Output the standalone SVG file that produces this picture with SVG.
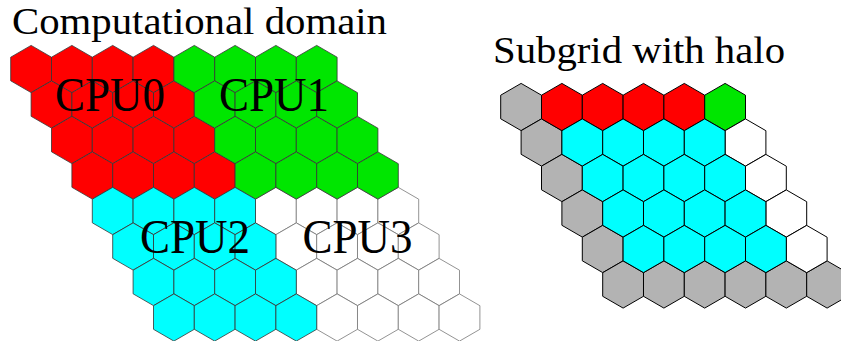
<svg xmlns="http://www.w3.org/2000/svg" xmlns:xlink="http://www.w3.org/1999/xlink" width="841" height="341" viewBox="0 0 841 341">
  <style>
    .lbl { font-family: "Liberation Serif", "DejaVu Serif", serif; fill: #000; }
    .title { font-size: 38px; }
    .cpu { font-size: 48px; }
    .dom use { stroke: #333; stroke-width: 0.8; }
    .dom .free use { stroke: #777; }
    .sub use { stroke: #000; stroke-width: 1; }
    .red use { fill: #ff0000; }
    .green use { fill: #00e600; }
    .cyan use { fill: #00ffff; }
    .white use { fill: #ffffff; }
    .gray use { fill: #b3b3b3; }
  </style>
  <defs>
    <!-- pointy-top hexagon cell centred on the origin -->
    <path id="h" d="M0,-23.6 L20.4,-11.8 L20.4,11.8 L0,23.6 L-20.4,11.8 L-20.4,-11.8 Z"/>
  </defs>

  <text class="lbl title" x="12" y="33.5" textLength="375" lengthAdjust="spacingAndGlyphs">Computational domain</text>
  <text class="lbl title" x="493" y="63.3" textLength="292" lengthAdjust="spacingAndGlyphs">Subgrid with halo</text>

  <!-- full domain: 8 x 8 rhombus of cells split over four ranks -->
  <g id="domain" class="dom">
    <g id="cpu3" class="white free">
      <use href="#h" x="275.9" y="211"/><use href="#h" x="316.7" y="211"/><use href="#h" x="357.5" y="211"/><use href="#h" x="398.3" y="211"/>
      <use href="#h" x="296.3" y="246.5"/><use href="#h" x="337.1" y="246.5"/><use href="#h" x="377.9" y="246.5"/><use href="#h" x="418.7" y="246.5"/>
      <use href="#h" x="316.7" y="282"/><use href="#h" x="357.5" y="282"/><use href="#h" x="398.3" y="282"/><use href="#h" x="439.1" y="282"/>
      <use href="#h" x="337.1" y="317.5"/><use href="#h" x="377.9" y="317.5"/><use href="#h" x="418.7" y="317.5"/><use href="#h" x="459.5" y="317.5"/>
    </g>
    <g id="cpu0" class="red">
      <use href="#h" x="31.1" y="69"/><use href="#h" x="71.9" y="69"/><use href="#h" x="112.7" y="69"/><use href="#h" x="153.5" y="69"/>
      <use href="#h" x="51.5" y="104.5"/><use href="#h" x="92.3" y="104.5"/><use href="#h" x="133.1" y="104.5"/><use href="#h" x="173.9" y="104.5"/>
      <use href="#h" x="71.9" y="140"/><use href="#h" x="112.7" y="140"/><use href="#h" x="153.5" y="140"/><use href="#h" x="194.3" y="140"/>
      <use href="#h" x="92.3" y="175.5"/><use href="#h" x="133.1" y="175.5"/><use href="#h" x="173.9" y="175.5"/><use href="#h" x="214.7" y="175.5"/>
    </g>
    <g id="cpu1" class="green">
      <use href="#h" x="194.3" y="69"/><use href="#h" x="235.1" y="69"/><use href="#h" x="275.9" y="69"/><use href="#h" x="316.7" y="69"/>
      <use href="#h" x="214.7" y="104.5"/><use href="#h" x="255.5" y="104.5"/><use href="#h" x="296.3" y="104.5"/><use href="#h" x="337.1" y="104.5"/>
      <use href="#h" x="235.1" y="140"/><use href="#h" x="275.9" y="140"/><use href="#h" x="316.7" y="140"/><use href="#h" x="357.5" y="140"/>
      <use href="#h" x="255.5" y="175.5"/><use href="#h" x="296.3" y="175.5"/><use href="#h" x="337.1" y="175.5"/><use href="#h" x="377.9" y="175.5"/>
    </g>
    <g id="cpu2" class="cyan">
      <use href="#h" x="112.7" y="211"/><use href="#h" x="153.5" y="211"/><use href="#h" x="194.3" y="211"/><use href="#h" x="235.1" y="211"/>
      <use href="#h" x="133.1" y="246.5"/><use href="#h" x="173.9" y="246.5"/><use href="#h" x="214.7" y="246.5"/><use href="#h" x="255.5" y="246.5"/>
      <use href="#h" x="153.5" y="282"/><use href="#h" x="194.3" y="282"/><use href="#h" x="235.1" y="282"/><use href="#h" x="275.9" y="282"/>
      <use href="#h" x="173.9" y="317.5"/><use href="#h" x="214.7" y="317.5"/><use href="#h" x="255.5" y="317.5"/><use href="#h" x="296.3" y="317.5"/>
    </g>
  </g>

  <g id="rank-labels">
    <text class="lbl cpu" x="55" y="110.7" textLength="110" lengthAdjust="spacingAndGlyphs">CPU0</text>
    <text class="lbl cpu" x="219" y="110.7" textLength="110" lengthAdjust="spacingAndGlyphs">CPU1</text>
    <text class="lbl cpu" x="140" y="252.7" textLength="110" lengthAdjust="spacingAndGlyphs">CPU2</text>
    <text class="lbl cpu" x="302.5" y="252.7" textLength="110" lengthAdjust="spacingAndGlyphs">CPU3</text>
  </g>

  <!-- one rank's 4 x 4 block surrounded by a one-cell halo -->
  <g id="subgrid" class="sub">
    <g id="halo-ghost" class="gray">
      <use href="#h" x="521.1" y="107"/><use href="#h" x="541.5" y="142.5"/><use href="#h" x="561.9" y="178"/><use href="#h" x="582.3" y="213.5"/><use href="#h" x="602.7" y="249"/>
      <use href="#h" x="623.1" y="284.5"/><use href="#h" x="663.9" y="284.5"/><use href="#h" x="704.7" y="284.5"/><use href="#h" x="745.5" y="284.5"/><use href="#h" x="786.3" y="284.5"/><use href="#h" x="827.1" y="284.5"/>
    </g>
    <g id="halo-cpu0" class="red">
      <use href="#h" x="561.9" y="107"/><use href="#h" x="602.7" y="107"/><use href="#h" x="643.5" y="107"/><use href="#h" x="684.3" y="107"/>
    </g>
    <g id="halo-cpu1" class="green">
      <use href="#h" x="725.1" y="107"/>
    </g>
    <g id="halo-cpu3" class="white">
      <use href="#h" x="745.5" y="142.5"/><use href="#h" x="765.9" y="178"/><use href="#h" x="786.3" y="213.5"/><use href="#h" x="806.7" y="249"/>
    </g>
    <g id="interior" class="cyan">
      <use href="#h" x="582.3" y="142.5"/><use href="#h" x="623.1" y="142.5"/><use href="#h" x="663.9" y="142.5"/><use href="#h" x="704.7" y="142.5"/>
      <use href="#h" x="602.7" y="178"/><use href="#h" x="643.5" y="178"/><use href="#h" x="684.3" y="178"/><use href="#h" x="725.1" y="178"/>
      <use href="#h" x="623.1" y="213.5"/><use href="#h" x="663.9" y="213.5"/><use href="#h" x="704.7" y="213.5"/><use href="#h" x="745.5" y="213.5"/>
      <use href="#h" x="643.5" y="249"/><use href="#h" x="684.3" y="249"/><use href="#h" x="725.1" y="249"/><use href="#h" x="765.9" y="249"/>
    </g>
  </g>
</svg>
